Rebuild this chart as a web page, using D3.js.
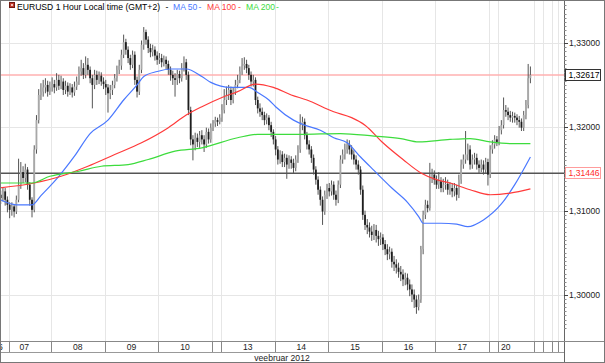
<!DOCTYPE html>
<html lang="et">
<head>
<meta charset="utf-8">
<title>EURUSD 1 Hour</title>
<script src="https://cdnjs.cloudflare.com/ajax/libs/d3/7.8.5/d3.min.js"></script>
<style>
body { margin: 0; background: #fff; }
svg text { font-family: "Liberation Sans", Arial, sans-serif; font-size: 8.6px; }
</style>
</head>
<body>
<script>
// hourly candles, index 0 = 07.02 00:00 (weekend hours skipped)
var firstOpen = 1.3125;
var closes = [
 1.3119,1.3115,1.3123,1.3113,1.3107,1.3101,1.3105,1.3099,1.3113,1.3131,
 1.3146,1.3139,1.3149,1.3131,1.3113,1.3101,1.3173,1.3208,1.3238,1.3242,
 1.3247,1.3250,1.3242,1.3247,1.3251,1.3247,1.3256,1.3249,1.3254,1.3244,
 1.3249,1.3242,1.3247,1.3241,1.3248,1.3254,1.3266,1.3270,1.3262,1.3274,
 1.3268,1.3258,1.3250,1.3262,1.3256,1.3261,1.3254,1.3251,1.3247,1.3240,
 1.3244,1.3250,1.3258,1.3268,1.3273,1.3286,1.3301,1.3292,1.3282,1.3274,
 1.3286,1.3256,1.3242,1.3268,1.3298,1.3313,1.3304,1.3294,1.3289,1.3292,
 1.3285,1.3280,1.3282,1.3277,1.3280,1.3275,1.3268,1.3262,1.3258,1.3256,
 1.3263,1.3258,1.3270,1.3277,1.3262,1.3220,1.3185,1.3179,1.3187,1.3182,
 1.3190,1.3185,1.3179,1.3194,1.3185,1.3199,1.3204,1.3208,1.3206,1.3211,
 1.3220,1.3232,1.3238,1.3244,1.3232,1.3242,1.3250,1.3256,1.3266,1.3273,
 1.3275,1.3270,1.3262,1.3254,1.3256,1.3232,1.3222,1.3218,1.3214,1.3208,
 1.3211,1.3202,1.3194,1.3185,1.3173,1.3161,1.3167,1.3158,1.3163,1.3155,
 1.3161,1.3157,1.3151,1.3161,1.3173,1.3202,1.3206,1.3190,1.3179,1.3173,
 1.3163,1.3149,1.3137,1.3125,1.3113,1.3099,1.3119,1.3127,1.3123,1.3131,
 1.3119,1.3113,1.3131,1.3161,1.3167,1.3173,1.3179,1.3173,1.3167,1.3161,
 1.3155,1.3149,1.3125,1.3095,1.3083,1.3080,1.3075,1.3071,1.3077,1.3070,
 1.3066,1.3068,1.3060,1.3054,1.3048,1.3051,1.3039,1.3036,1.3032,1.3027,
 1.3024,1.3018,1.3020,1.3012,1.3006,1.3000,1.2994,1.2985,1.2994,1.3054,
 1.3095,1.3107,1.3103,1.3139,1.3143,1.3137,1.3131,1.3135,1.3127,1.3131,
 1.3132,1.3125,1.3127,1.3123,1.3127,1.3119,1.3137,1.3155,1.3161,1.3167,
 1.3173,1.3155,1.3161,1.3163,1.3155,1.3151,1.3155,1.3149,1.3158,1.3143,
 1.3173,1.3179,1.3185,1.3182,1.3196,1.3202,1.3220,1.3218,1.3214,1.3211,
 1.3213,1.3211,1.3208,1.3206,1.3199,1.3214,1.3226,1.3258,1.3262
];
var highs = [
 1.3130,1.3124,1.3128,1.3127,1.3117,1.3110,1.3110,1.3108,1.3118,1.3162,
 1.3158,1.3153,1.3156,1.3152,1.3134,1.3116,1.3178,1.3214,1.3245,1.3252,
 1.3256,1.3258,1.3255,1.3254,1.3259,1.3256,1.3264,1.3262,1.3261,1.3258,
 1.3255,1.3253,1.3252,1.3251,1.3254,1.3260,1.3272,1.3280,1.3276,1.3284,
 1.3282,1.3272,1.3262,1.3268,1.3267,1.3266,1.3265,1.3259,1.3256,1.3251,
 1.3250,1.3255,1.3263,1.3273,1.3280,1.3292,1.3310,1.3305,1.3296,1.3286,
 1.3291,1.3290,1.3260,1.3274,1.3303,1.3319,1.3316,1.3308,1.3299,1.3298,
 1.3296,1.3290,1.3288,1.3287,1.3285,1.3284,1.3279,1.3272,1.3267,1.3264,
 1.3268,1.3267,1.3276,1.3284,1.3281,1.3266,1.3224,1.3190,1.3193,1.3192,
 1.3195,1.3196,1.3190,1.3199,1.3198,1.3204,1.3208,1.3212,1.3211,1.3215,
 1.3227,1.3245,1.3248,1.3250,1.3248,1.3247,1.3256,1.3262,1.3272,1.3282,
 1.3283,1.3280,1.3274,1.3266,1.3262,1.3259,1.3236,1.3228,1.3223,1.3218,
 1.3216,1.3214,1.3206,1.3197,1.3189,1.3177,1.3172,1.3171,1.3168,1.3167,
 1.3166,1.3165,1.3162,1.3166,1.3178,1.3215,1.3212,1.3210,1.3194,1.3184,
 1.3177,1.3167,1.3153,1.3141,1.3129,1.3117,1.3124,1.3132,1.3133,1.3136,
 1.3135,1.3124,1.3136,1.3166,1.3173,1.3180,1.3185,1.3184,1.3178,1.3172,
 1.3166,1.3160,1.3153,1.3130,1.3100,1.3090,1.3086,1.3082,1.3084,1.3083,
 1.3076,1.3074,1.3072,1.3065,1.3060,1.3057,1.3055,1.3046,1.3042,1.3038,
 1.3034,1.3030,1.3026,1.3025,1.3018,1.3012,1.3006,1.2999,1.3000,1.3058,
 1.3100,1.3113,1.3112,1.3157,1.3150,1.3148,1.3142,1.3146,1.3140,1.3138,
 1.3140,1.3137,1.3134,1.3133,1.3133,1.3131,1.3143,1.3161,1.3167,1.3195,
 1.3180,1.3178,1.3167,1.3169,1.3168,1.3160,1.3161,1.3160,1.3163,1.3162,
 1.3178,1.3184,1.3190,1.3189,1.3201,1.3208,1.3235,1.3226,1.3223,1.3219,
 1.3218,1.3217,1.3215,1.3213,1.3210,1.3219,1.3232,1.3275,1.3272
];
var lows = [
 1.3112,1.3108,1.3111,1.3106,1.3098,1.3091,1.3094,1.3092,1.3096,1.3110,
 1.3126,1.3133,1.3134,1.3125,1.3106,1.3092,1.3098,1.3168,1.3204,1.3232,
 1.3236,1.3240,1.3236,1.3238,1.3242,1.3240,1.3243,1.3244,1.3245,1.3238,
 1.3239,1.3236,1.3238,1.3235,1.3237,1.3244,1.3250,1.3261,1.3257,1.3258,
 1.3262,1.3252,1.3222,1.3245,1.3250,1.3251,1.3249,1.3245,1.3238,1.3217,
 1.3233,1.3238,1.3246,1.3254,1.3263,1.3268,1.3282,1.3286,1.3276,1.3268,
 1.3270,1.3250,1.3235,1.3238,1.3264,1.3292,1.3298,1.3288,1.3283,1.3284,
 1.3279,1.3274,1.3275,1.3271,1.3272,1.3269,1.3262,1.3255,1.3250,1.3236,
 1.3250,1.3252,1.3254,1.3266,1.3256,1.3214,1.3178,1.3160,1.3172,1.3176,
 1.3175,1.3179,1.3170,1.3175,1.3180,1.3181,1.3195,1.3200,1.3201,1.3203,
 1.3206,1.3216,1.3226,1.3232,1.3226,1.3228,1.3238,1.3246,1.3252,1.3262,
 1.3268,1.3264,1.3256,1.3248,1.3248,1.3226,1.3216,1.3212,1.3208,1.3202,
 1.3203,1.3196,1.3188,1.3179,1.3166,1.3155,1.3156,1.3152,1.3152,1.3138,
 1.3150,1.3150,1.3145,1.3147,1.3157,1.3169,1.3196,1.3185,1.3173,1.3167,
 1.3157,1.3143,1.3131,1.3119,1.3106,1.3083,1.3095,1.3114,1.3117,1.3118,
 1.3113,1.3106,1.3109,1.3127,1.3156,1.3161,1.3168,1.3167,1.3161,1.3155,
 1.3149,1.3143,1.3119,1.3089,1.3077,1.3072,1.3068,1.3064,1.3065,1.3062,
 1.3058,1.3059,1.3053,1.3047,1.3041,1.3042,1.3032,1.3028,1.3025,1.3020,
 1.3016,1.3010,1.3011,1.3005,1.2998,1.2991,1.2984,1.2977,1.2981,1.2990,
 1.3048,1.3090,1.3098,1.3100,1.3133,1.3131,1.3126,1.3126,1.3122,1.3122,
 1.3125,1.3119,1.3119,1.3116,1.3117,1.3112,1.3115,1.3132,1.3150,1.3156,
 1.3160,1.3149,1.3150,1.3155,1.3149,1.3145,1.3146,1.3143,1.3145,1.3130,
 1.3139,1.3168,1.3174,1.3177,1.3178,1.3191,1.3198,1.3212,1.3208,1.3206,
 1.3205,1.3205,1.3202,1.3199,1.3195,1.3195,1.3209,1.3222,1.3252
];

// moving averages read at a few candle indexes
var ma50Idx = [0,8,15,19,27,34,41,49,56,62,65,71,77,84,91,95,104,112,116,121,124,132,137,144,150,156,162,168,176,183,188,190,198,205,210,217,225,231,238];
var ma50 = [1.3114,1.3107,1.3107,1.3118,1.3141,1.3165,1.3192,1.3208,1.3232,1.3250,1.3260,1.3266,1.3269,1.3269,1.3260,1.3253,1.3247,1.3247,1.3241,1.3232,1.3224,1.3208,1.3202,1.3196,1.3187,1.3181,1.3164,1.3148,1.3127,1.3110,1.3093,1.3085,1.3085,1.3084,1.3081,1.3089,1.3108,1.3131,1.3164];
var ma100Idx = [0,16,28,40,52,64,76,84,91,100,107,115,123,131,138,150,158,164,172,181,189,196,202,211,220,229,238];
var ma100 = [1.3127,1.3133,1.3141,1.3153,1.3167,1.3181,1.3199,1.3214,1.3224,1.3235,1.3242,1.3251,1.3247,1.3238,1.3232,1.3218,1.3211,1.3202,1.3181,1.3161,1.3145,1.3137,1.3133,1.3125,1.3119,1.3121,1.3126];
var ma200Idx = [0,15,23,36,46,58,67,79,91,107,116,135,153,168,180,188,202,211,220,229,238];
var ma200 = [1.3133,1.3133,1.3141,1.3147,1.3153,1.3155,1.3161,1.3171,1.3175,1.3187,1.3191,1.3191,1.3192,1.3189,1.3186,1.3182,1.3185,1.3186,1.3182,1.3180,1.3180];

var dayTicks = [5,24,48,72,96,100,124,148,172,196,220,224,240,244,248,251];
var dayLabels = ["06","07","08","09","10","13","14","15","16","17","20"];
var dayLabelAt = [0.3,12,36,60,84,112,136,160,184,208,227.5];
var monthLabel = "veebruar 2012";
var priceTicks = [1.30, 1.31, 1.32, 1.33];
var lastPrice = 1.32617;
var markPrice = 1.31446;
var title = "EURUSD 1 Hour Local time (GMT+2)";

var w = 605, h = 363;
var plotRight = 564, plotBottom = 341;

var x = d3.scaleLinear().domain([24, 224]).range([51, 498]);
var y = d3.scaleLinear().domain([1.30, 1.33]).range([294.5, 43]);
var fmt = d3.formatLocale({decimal: ",", thousands: " ", grouping: [3], currency: ["", ""]}).format(".5f");

var svg = d3.select("body").append("svg")
    .attr("width", w)
    .attr("height", h);

svg.append("clipPath").attr("id", "plot")
    .append("rect").attr("x", 0).attr("y", 0).attr("width", plotRight).attr("height", plotBottom);

var plot = svg.append("g").attr("clip-path", "url(#plot)");

// grid
plot.selectAll(".vgrid").data(dayTicks).enter().append("line")
    .attr("x1", function(d) { return Math.round(x(d)) + 0.5; })
    .attr("x2", function(d) { return Math.round(x(d)) + 0.5; })
    .attr("y1", 0).attr("y2", plotBottom)
    .attr("stroke", "#e6e6e6");
plot.selectAll(".hgrid").data(priceTicks).enter().append("line")
    .attr("x1", 0).attr("x2", plotRight)
    .attr("y1", function(d) { return Math.round(y(d)) + 0.5; })
    .attr("y2", function(d) { return Math.round(y(d)) + 0.5; })
    .attr("stroke", "#e6e6e6");

// price lines
plot.append("line")
    .attr("x1", 0).attr("x2", plotRight)
    .attr("y1", y(lastPrice)).attr("y2", y(lastPrice))
    .attr("stroke", "#ffb0b0").attr("stroke-width", 1.5);
plot.append("line")
    .attr("x1", 0).attr("x2", plotRight)
    .attr("y1", y(markPrice)).attr("y2", y(markPrice))
    .attr("stroke", "#555").attr("stroke-width", 1.6);

// candles
var candles = closes.map(function(c, i) {
    return {i: i, o: i ? closes[i - 1] : firstOpen, c: c, h: highs[i], l: lows[i]};
});
var cg = plot.selectAll(".candle").data(candles).enter().append("g");
cg.append("line")
    .attr("x1", function(d) { return x(d.i + 0.5); })
    .attr("x2", function(d) { return x(d.i + 0.5); })
    .attr("y1", function(d) { return y(d.h); })
    .attr("y2", function(d) { return y(d.l); })
    .attr("stroke", "#555").attr("stroke-width", 1);
cg.append("rect")
    .attr("x", function(d) { return x(d.i + 0.5) - 0.9; })
    .attr("width", 1.8)
    .attr("y", function(d) { return y(Math.max(d.o, d.c)); })
    .attr("height", function(d) { return Math.max(1, Math.abs(y(d.o) - y(d.c))); })
    .attr("fill", function(d) { return d.c >= d.o ? "#a8a8a8" : "#1e1e1e"; });

// moving averages
var line = d3.line()
    .x(function(d) { return x(d[0] + 0.5); })
    .y(function(d) { return y(d[1]); })
    .curve(d3.curveMonotoneX);
var maSets = [
    {idx: ma50Idx, v: ma50, color: "#4a78ff"},
    {idx: ma100Idx, v: ma100, color: "#ff3a3a"},
    {idx: ma200Idx, v: ma200, color: "#3ddc3d"}
];
maSets.forEach(function(m) {
    plot.append("path")
        .attr("d", line(m.idx.map(function(d, k) { return [d, m.v[k]]; })))
        .attr("fill", "none")
        .attr("stroke", m.color)
        .attr("stroke-width", 1.2);
});

// right price axis
svg.append("line")
    .attr("x1", plotRight + 0.5).attr("x2", plotRight + 0.5)
    .attr("y1", 0).attr("y2", h)
    .attr("stroke", "#666");
svg.selectAll(".minor").data(d3.range(1.2960, 1.3350, 0.0005)).enter().append("line")
    .attr("x1", plotRight).attr("x2", plotRight + 2.5)
    .attr("y1", function(d) { return Math.round(y(d)) + 0.5; })
    .attr("y2", function(d) { return Math.round(y(d)) + 0.5; })
    .attr("stroke", "#888");
svg.selectAll(".major").data(priceTicks).enter().append("line")
    .attr("x1", plotRight).attr("x2", plotRight + 4)
    .attr("y1", function(d) { return Math.round(y(d)) + 0.5; })
    .attr("y2", function(d) { return Math.round(y(d)) + 0.5; })
    .attr("stroke", "#444");
svg.selectAll(".plabel").data(priceTicks).enter().append("text")
    .attr("x", 569)
    .attr("y", function(d) { return y(d) + 3; })
    .attr("fill", "#222")
    .text(function(d) { return fmt(d); });

// price boxes
[{p: lastPrice, stroke: "#333", color: "#000"}, {p: markPrice, stroke: "#ff9c9c", color: "#ff2a2a"}].forEach(function(b) {
    var yy = Math.round(y(b.p));
    svg.append("rect")
        .attr("x", 565.5).attr("y", yy - 5.5)
        .attr("width", 35).attr("height", 11)
        .attr("fill", "#fff").attr("stroke", b.stroke);
    svg.append("text")
        .attr("x", 568.5).attr("y", yy + 3)
        .attr("fill", b.color)
        .text(fmt(b.p));
});

// time axis rows
svg.append("line").attr("x1", 0).attr("x2", w).attr("y1", plotBottom + 0.5).attr("y2", plotBottom + 0.5).attr("stroke", "#888");
svg.append("line").attr("x1", 0).attr("x2", plotRight).attr("y1", 352.5).attr("y2", 352.5).attr("stroke", "#999");
svg.selectAll(".dtick").data(dayTicks).enter().append("line")
    .attr("x1", function(d) { return Math.round(x(d)) + 0.5; })
    .attr("x2", function(d) { return Math.round(x(d)) + 0.5; })
    .attr("y1", plotBottom).attr("y2", 352)
    .attr("stroke", "#888");
svg.append("clipPath").attr("id", "days")
    .append("rect").attr("x", 0).attr("y", plotBottom).attr("width", plotRight).attr("height", 12);
svg.append("g").attr("clip-path", "url(#days)")
    .selectAll("text").data(dayLabels).enter().append("text")
    .attr("x", function(d, i) { return x(dayLabelAt[i]); })
    .attr("y", 350)
    .attr("text-anchor", "middle")
    .attr("fill", "#222")
    .text(function(d) { return d; });
svg.append("text")
    .attr("x", plotRight / 2).attr("y", 360.5)
    .attr("text-anchor", "middle")
    .attr("fill", "#222")
    .text(monthLabel);

// frame
svg.append("rect")
    .attr("x", 0.5).attr("y", 0.5)
    .attr("width", w - 1).attr("height", h - 1)
    .attr("fill", "none").attr("stroke", "#777");

// title and legend
svg.append("rect").attr("x", 9.5).attr("y", 2.5).attr("width", 5).attr("height", 5)
    .attr("fill", "#c0392b").attr("stroke", "#6e1a12");
svg.append("rect").attr("x", 11).attr("y", 4).attr("width", 2).attr("height", 2).attr("fill", "#f2c0b8");
svg.append("text").attr("x", 17).attr("y", 9.5).attr("fill", "#000").text(title);
var legend = [
    {t: "-", x: 165.5, c: "#000"},
    {t: "MA 50", x: 173, c: "#4a78ff"},
    {t: "-", x: 198.5, c: "#4a78ff"},
    {t: "MA 100", x: 207, c: "#ff3a3a"},
    {t: "-", x: 238, c: "#ff3a3a"},
    {t: "MA 200", x: 246, c: "#3ddc3d"},
    {t: "-", x: 276, c: "#3ddc3d"}
];
svg.selectAll(".leg").data(legend).enter().append("text")
    .attr("x", function(d) { return d.x; })
    .attr("y", 9.5)
    .attr("fill", function(d) { return d.c; })
    .text(function(d) { return d.t; });
</script>
</body>
</html>
